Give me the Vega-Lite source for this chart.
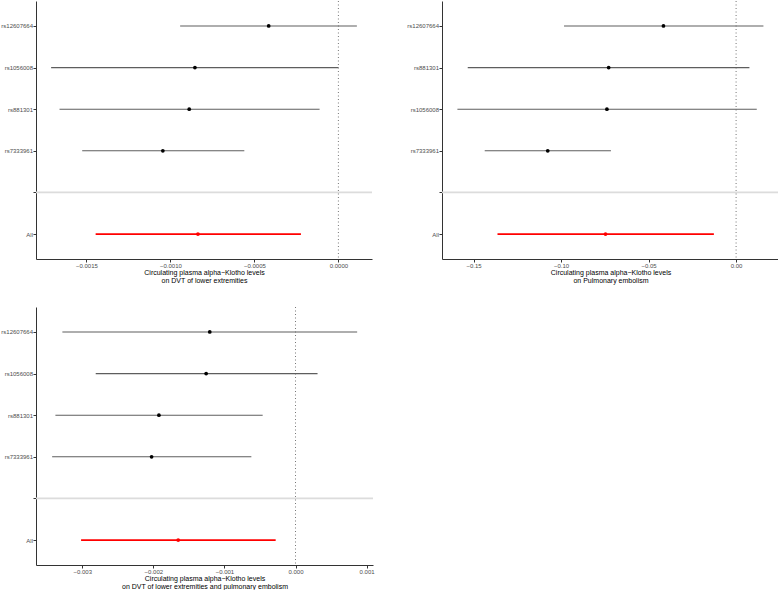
{
  "$schema": "https://vega.github.io/schema/vega-lite/v6.json",
  "padding": {"left": 0, "top": 0, "right": 0, "bottom": 0},
  "background": "white",
  "bounds": "flush",
  "columns": 2,
  "spacing": {"row": 48, "column": 69},
  "datasets": {
    "dvt": [
      {"snp": "rs12607664", "b": -0.000415, "lo": -0.000942, "hi": 0.000110},
      {"snp": "rs1056008", "b": -0.000854, "lo": -0.00171, "hi": 0.0},
      {"snp": "rs881301", "b": -0.000888, "lo": -0.00166, "hi": -0.000112},
      {"snp": "rs7333961", "b": -0.001045, "lo": -0.001525, "hi": -0.00056},
      {"snp": "All", "b": -0.000836, "lo": -0.001445, "hi": -0.000223}
    ],
    "pe": [
      {"snp": "rs12607664", "b": -0.0415, "lo": -0.0983, "hi": 0.0156},
      {"snp": "rs881301", "b": -0.0728, "lo": -0.1533, "hi": 0.0076},
      {"snp": "rs1056008", "b": -0.0738, "lo": -0.1592, "hi": 0.0118},
      {"snp": "rs7333961", "b": -0.1076, "lo": -0.1436, "hi": -0.0715},
      {"snp": "All", "b": -0.0746, "lo": -0.1363, "hi": -0.0127}
    ],
    "both": [
      {"snp": "rs12607664", "b": -0.001206, "lo": -0.003279, "hi": 0.000867},
      {"snp": "rs1056008", "b": -0.001257, "lo": -0.00281, "hi": 0.00031},
      {"snp": "rs881301", "b": -0.001921, "lo": -0.003377, "hi": -0.000462},
      {"snp": "rs7333961", "b": -0.002024, "lo": -0.003423, "hi": -0.000621},
      {"snp": "All", "b": -0.00165, "lo": -0.003016, "hi": -0.000279}
    ]
  },
  "concat": [
    {
      "width": 336, "height": 258,
      "data": {"name": "dvt"},
      "layer": [
        {"data": {"values": [{}]}, "mark": {"type": "rule", "color": "#dcdcdc", "strokeWidth": 1.6},
         "encoding": {"y": {"datum": " ", "type": "ordinal", "scale": {"type": "point", "domain": ["rs12607664", "rs1056008", "rs881301", "rs7333961", " ", "All"], "padding": 0.6}, "title": null}}},
        {"data": {"values": [{}]}, "mark": {"type": "rule", "color": "#666666", "strokeDash": [1, 2.5], "strokeWidth": 0.9},
         "encoding": {"x": {"datum": 0, "type": "quantitative", "scale": {"domain": [-0.0018, 0.0002], "nice": false, "zero": false}, "axis": {"values": [-0.0015, -0.001, -0.0005, 0], "format": ".4f"}, "title": ["Circulating plasma alpha−Klotho levels", "on DVT of lower extremities"]}}},
        {"mark": {"type": "rule"},
         "encoding": {
           "x": {"field": "lo", "type": "quantitative", "scale": {"domain": [-0.0018, 0.0002], "nice": false, "zero": false}, "axis": {"values": [-0.0015, -0.001, -0.0005, 0], "format": ".4f"}, "title": ["Circulating plasma alpha−Klotho levels", "on DVT of lower extremities"]},
           "x2": {"field": "hi"},
           "y": {"field": "snp", "type": "ordinal", "scale": {"type": "point", "domain": ["rs12607664", "rs1056008", "rs881301", "rs7333961", " ", "All"], "padding": 0.6}, "title": null},
           "color": {"condition": {"test": "datum.snp === 'All'", "value": "#ff0000"}, "value": "#5e5e5e"},
           "strokeWidth": {"condition": {"test": "datum.snp === 'All'", "value": 1.8}, "value": 1.1}
         }},
        {"mark": {"type": "point", "filled": true, "opacity": 1, "size": 14},
         "encoding": {
           "x": {"field": "b", "type": "quantitative", "scale": {"domain": [-0.0018, 0.0002], "nice": false, "zero": false}, "axis": {"values": [-0.0015, -0.001, -0.0005, 0], "format": ".4f"}, "title": ["Circulating plasma alpha−Klotho levels", "on DVT of lower extremities"]},
           "y": {"field": "snp", "type": "ordinal", "scale": {"type": "point", "domain": ["rs12607664", "rs1056008", "rs881301", "rs7333961", " ", "All"], "padding": 0.6}, "title": null},
           "color": {"condition": {"test": "datum.snp === 'All'", "value": "#ff0000"}, "value": "#000000"}
         }}
      ]
    },
    {
      "width": 337, "height": 258,
      "data": {"name": "pe"},
      "layer": [
        {"data": {"values": [{}]}, "mark": {"type": "rule", "color": "#dcdcdc", "strokeWidth": 1.6},
         "encoding": {"y": {"datum": " ", "type": "ordinal", "scale": {"type": "point", "domain": ["rs12607664", "rs881301", "rs1056008", "rs7333961", " ", "All"], "padding": 0.6}, "title": null}}},
        {"data": {"values": [{}]}, "mark": {"type": "rule", "color": "#666666", "strokeDash": [1, 2.5], "strokeWidth": 0.9},
         "encoding": {"x": {"datum": 0, "type": "quantitative", "scale": {"domain": [-0.168, 0.0245], "nice": false, "zero": false}, "axis": {"values": [-0.15, -0.1, -0.05, 0], "format": ".2f"}, "title": ["Circulating plasma alpha−Klotho levels", "on Pulmonary embolism"]}}},
        {"mark": {"type": "rule"},
         "encoding": {
           "x": {"field": "lo", "type": "quantitative", "scale": {"domain": [-0.168, 0.0245], "nice": false, "zero": false}, "axis": {"values": [-0.15, -0.1, -0.05, 0], "format": ".2f"}, "title": ["Circulating plasma alpha−Klotho levels", "on Pulmonary embolism"]},
           "x2": {"field": "hi"},
           "y": {"field": "snp", "type": "ordinal", "scale": {"type": "point", "domain": ["rs12607664", "rs881301", "rs1056008", "rs7333961", " ", "All"], "padding": 0.6}, "title": null},
           "color": {"condition": {"test": "datum.snp === 'All'", "value": "#ff0000"}, "value": "#5e5e5e"},
           "strokeWidth": {"condition": {"test": "datum.snp === 'All'", "value": 1.8}, "value": 1.1}
         }},
        {"mark": {"type": "point", "filled": true, "opacity": 1, "size": 14},
         "encoding": {
           "x": {"field": "b", "type": "quantitative", "scale": {"domain": [-0.168, 0.0245], "nice": false, "zero": false}, "axis": {"values": [-0.15, -0.1, -0.05, 0], "format": ".2f"}, "title": ["Circulating plasma alpha−Klotho levels", "on Pulmonary embolism"]},
           "y": {"field": "snp", "type": "ordinal", "scale": {"type": "point", "domain": ["rs12607664", "rs881301", "rs1056008", "rs7333961", " ", "All"], "padding": 0.6}, "title": null},
           "color": {"condition": {"test": "datum.snp === 'All'", "value": "#ff0000"}, "value": "#000000"}
         }}
      ]
    },
    {
      "width": 337, "height": 258,
      "data": {"name": "both"},
      "layer": [
        {"data": {"values": [{}]}, "mark": {"type": "rule", "color": "#dcdcdc", "strokeWidth": 1.6},
         "encoding": {"y": {"datum": " ", "type": "ordinal", "scale": {"type": "point", "domain": ["rs12607664", "rs1056008", "rs881301", "rs7333961", " ", "All"], "padding": 0.6}, "title": null}}},
        {"data": {"values": [{}]}, "mark": {"type": "rule", "color": "#666666", "strokeDash": [1, 2.5], "strokeWidth": 0.9},
         "encoding": {"x": {"datum": 0, "type": "quantitative", "scale": {"domain": [-0.00365, 0.00109], "nice": false, "zero": false}, "axis": {"values": [-0.003, -0.002, -0.001, 0, 0.001], "format": ".3f"}, "title": ["Circulating plasma alpha−Klotho levels", "on DVT of lower extremities and pulmonary embolism"]}}},
        {"mark": {"type": "rule"},
         "encoding": {
           "x": {"field": "lo", "type": "quantitative", "scale": {"domain": [-0.00365, 0.00109], "nice": false, "zero": false}, "axis": {"values": [-0.003, -0.002, -0.001, 0, 0.001], "format": ".3f"}, "title": ["Circulating plasma alpha−Klotho levels", "on DVT of lower extremities and pulmonary embolism"]},
           "x2": {"field": "hi"},
           "y": {"field": "snp", "type": "ordinal", "scale": {"type": "point", "domain": ["rs12607664", "rs1056008", "rs881301", "rs7333961", " ", "All"], "padding": 0.6}, "title": null},
           "color": {"condition": {"test": "datum.snp === 'All'", "value": "#ff0000"}, "value": "#5e5e5e"},
           "strokeWidth": {"condition": {"test": "datum.snp === 'All'", "value": 1.8}, "value": 1.1}
         }},
        {"mark": {"type": "point", "filled": true, "opacity": 1, "size": 14},
         "encoding": {
           "x": {"field": "b", "type": "quantitative", "scale": {"domain": [-0.00365, 0.00109], "nice": false, "zero": false}, "axis": {"values": [-0.003, -0.002, -0.001, 0, 0.001], "format": ".3f"}, "title": ["Circulating plasma alpha−Klotho levels", "on DVT of lower extremities and pulmonary embolism"]},
           "y": {"field": "snp", "type": "ordinal", "scale": {"type": "point", "domain": ["rs12607664", "rs1056008", "rs881301", "rs7333961", " ", "All"], "padding": 0.6}, "title": null},
           "color": {"condition": {"test": "datum.snp === 'All'", "value": "#ff0000"}, "value": "#000000"}
         }}
      ]
    }
  ],
  "config": {
    "view": {"stroke": null},
    "font": "Liberation Sans",
    "axis": {
      "grid": false,
      "domainColor": "#333333",
      "domainWidth": 1,
      "tickColor": "#333333",
      "tickWidth": 1,
      "tickSize": 3,
      "labelColor": "#4d4d4d",
      "labelFont": "Liberation Sans",
      "labelFontSize": 6,
      "labelPadding": 0.5,
      "titleFont": "Liberation Sans",
      "titleFontSize": 7,
      "titleFontWeight": "normal",
      "titleColor": "#000000",
      "titleLineHeight": 8.2,
      "titlePadding": 0
    }
  }
}
